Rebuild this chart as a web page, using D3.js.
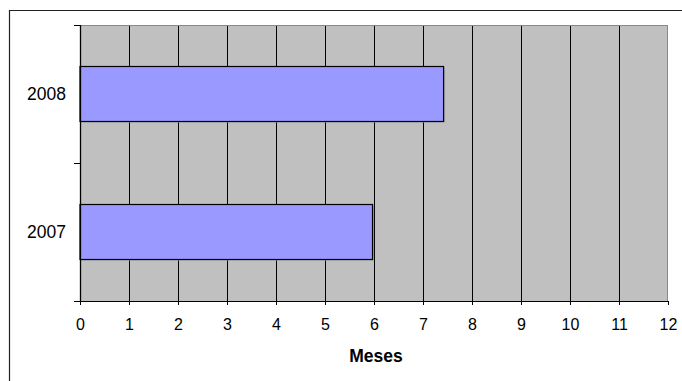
<!DOCTYPE html>
<html>
<head>
<meta charset="utf-8">
<script src="https://cdn.jsdelivr.net/npm/d3@7"></script>
<style>
  html, body { margin: 0; padding: 0; background: #fff; }
  svg { display: block; }
  text { font-family: "Liberation Sans", Arial, sans-serif; fill: #000; }
</style>
</head>
<body>
<svg id="chart" width="682" height="381"></svg>
<script>
// Years shown on the category axis (top to bottom)
const years = ["2008", "2007"];
// Duration in months for each year
const months = [7.42, 5.97];
// Value axis ticks
const xTicks = [0, 1, 2, 3, 4, 5, 6, 7, 8, 9, 10, 11, 12];
const xTitle = "Meses";

const svg = d3.select("#chart");
const W = 682, H = 381;
const plot = { left: 80, right: 668, top: 25, bottom: 301 };

// Outer frame (left and top edges)
svg.append("path")
  .attr("d", `M9.5,${H} V10.5 H${W}`)
  .attr("fill", "none")
  .attr("stroke", "#222")
  .attr("stroke-width", 1.2);

const x = d3.scaleLinear().domain([0, 12]).range([plot.left, plot.right]);
const y = d3.scaleBand().domain(years).range([plot.top, plot.bottom])
  .paddingInner(0.6).paddingOuter(0.3);

// Plot background
svg.append("rect")
  .attr("x", plot.left).attr("y", plot.top)
  .attr("width", plot.right - plot.left).attr("height", plot.bottom - plot.top)
  .attr("fill", "#c0c0c0");

// Vertical gridlines
svg.append("g").selectAll("line")
  .data(xTicks.filter(t => t > 0 && t < 12))
  .join("line")
  .attr("x1", d => Math.round(x(d)) + 0.5).attr("x2", d => Math.round(x(d)) + 0.5)
  .attr("y1", plot.top).attr("y2", plot.bottom)
  .attr("stroke", "#000").attr("stroke-width", 1);

// Plot border (top and right)
svg.append("path")
  .attr("d", `M${plot.left},${plot.top + 0.5} H${plot.right - 0.5} V${plot.bottom}`)
  .attr("fill", "none")
  .attr("stroke", "#888").attr("stroke-width", 1);

// Bar shadows
svg.append("g").selectAll("rect")
  .data(years)
  .join("rect")
  .attr("x", x(0) + 1.5)
  .attr("y", d => Math.round(y(d)) + 1.5)
  .attr("width", (d, i) => x(months[i]) - x(0))
  .attr("height", Math.round(y.bandwidth()))
  .attr("fill", "#a8a8a8");

// Bars
svg.append("g").selectAll("rect")
  .data(years)
  .join("rect")
  .attr("x", x(0))
  .attr("y", d => Math.round(y(d)) + 0.5)
  .attr("width", (d, i) => x(months[i]) - x(0))
  .attr("height", Math.round(y.bandwidth()))
  .attr("fill", "#9999ff")
  .attr("stroke", "#000").attr("stroke-width", 1.2);

// X axis
const xAxis = d3.axisBottom(x).tickValues(xTicks).tickSize(4).tickPadding(14)
  .tickFormat(d3.format("d"));
const gx = svg.append("g").attr("transform", `translate(0,${plot.bottom})`).call(xAxis);
gx.select(".domain").attr("d", `M${plot.left - 6},0.5H${plot.right}`).attr("stroke", "#000");
gx.selectAll(".tick line").attr("stroke", "#000");
gx.selectAll(".tick text")
  .style("font-family", "'Liberation Sans', Arial, sans-serif")
  .style("font-size", "16px").attr("fill", "#000");

// Y axis line and ticks at category boundaries
const boundaries = d3.range(years.length + 1).map(i => plot.top + i * (plot.bottom - plot.top) / years.length);
svg.append("line")
  .attr("x1", plot.left + 0.5).attr("x2", plot.left + 0.5)
  .attr("y1", plot.top).attr("y2", plot.bottom)
  .attr("stroke", "#000").attr("stroke-width", 1.3);
svg.append("g").selectAll("line")
  .data(boundaries)
  .join("line")
  .attr("x1", plot.left - 6).attr("x2", plot.left)
  .attr("y1", d => Math.round(d) + 0.5).attr("y2", d => Math.round(d) + 0.5)
  .attr("stroke", "#000");

// Category labels
svg.append("g").selectAll("text")
  .data(years)
  .join("text")
  .attr("x", 66)
  .attr("y", d => y(d) + y.bandwidth() / 2)
  .attr("text-anchor", "end")
  .attr("dominant-baseline", "central")
  .style("font-size", "17.5px")
  .text(d => d);

// Axis title
svg.append("text")
  .attr("x", (plot.left + plot.right) / 2 + 2)
  .attr("y", 362)
  .attr("text-anchor", "middle")
  .style("font-size", "17.5px")
  .style("font-weight", "bold")
  .text(xTitle);
</script>
</body>
</html>
